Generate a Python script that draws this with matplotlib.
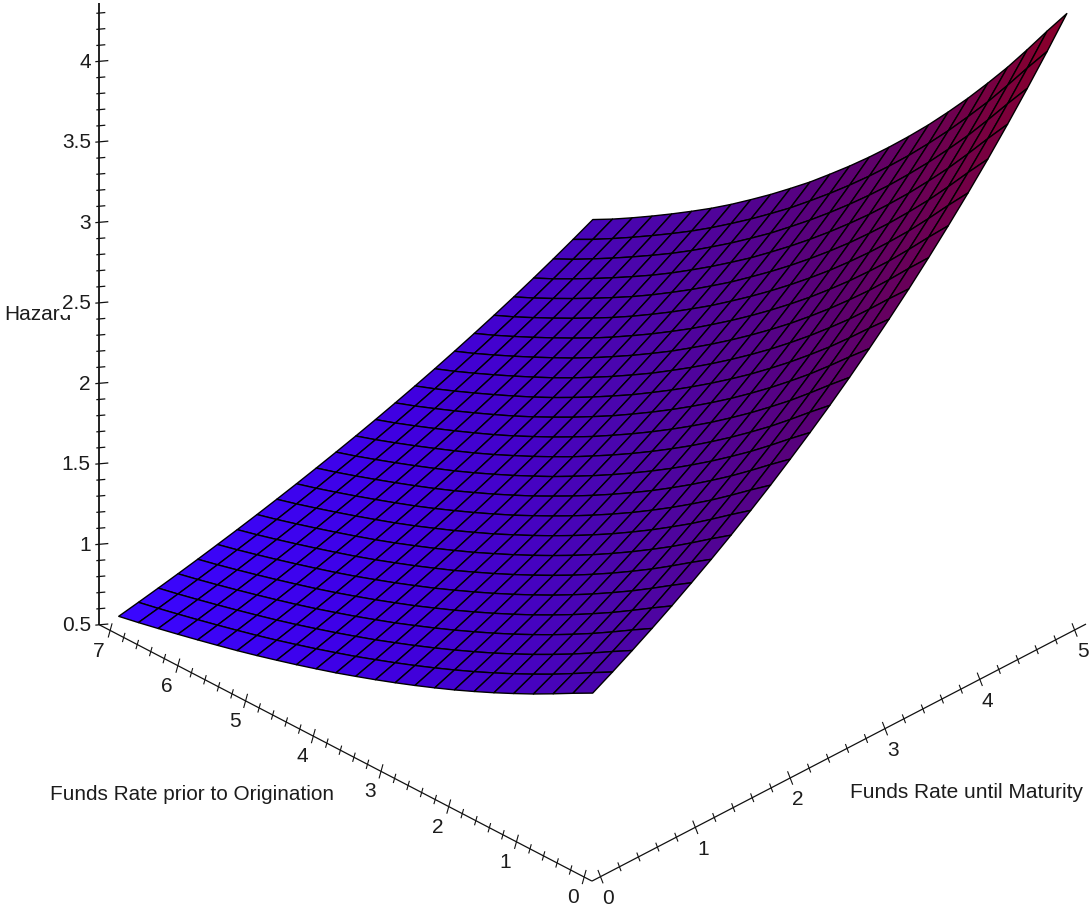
import numpy as np
import matplotlib
matplotlib.use("Agg")
import matplotlib.pyplot as plt
from matplotlib.colors import LinearSegmentedColormap, Normalize
from mpl_toolkits.mplot3d import proj3d

plt.rcParams['font.family'] = ['Liberation Sans', 'DejaVu Sans']

# Funds Rate until Maturity grid and hazard along the edge where prior rate = 0
maturity_rate = [5 * i / 24 for i in range(25)]
hazard_by_maturity = [1.615, 1.682, 1.752, 1.825, 1.901, 1.981, 2.063, 2.149, 2.239, 2.332,
                      2.430, 2.531, 2.636, 2.746, 2.861, 2.980, 3.104, 3.234, 3.369, 3.509,
                      3.655, 3.808, 3.967, 4.132, 4.304]
# Funds Rate prior to Origination grid and hazard along the edge where maturity rate = 0
origination_rate = [7 * i / 24 for i in range(25)]
hazard_by_origination = [1.615, 1.550, 1.483, 1.418, 1.357, 1.298, 1.242, 1.188, 1.137, 1.088,
                         1.041, 0.996, 0.953, 0.911, 0.872, 0.834, 0.798, 0.763, 0.730, 0.699,
                         0.669, 0.640, 0.612, 0.585, 0.560]

x_ticks = [0, 1, 2, 3, 4, 5]
y_ticks = [0, 1, 2, 3, 4, 5, 6, 7]
z_ticks = [0.5, 1, 1.5, 2, 2.5, 3, 3.5, 4]
z_tick_labels = ['0.5', '1', '1.5', '2', '2.5', '3', '3.5', '4']
x_label = 'Funds Rate until Maturity'
y_label = 'Funds Rate prior to Origination'
z_label = 'Hazard'

color_levels = [0.56, 1.0, 1.6, 2.6, 3.5, 4.3]
color_values = ['#3a06ff', '#3f00e1', '#4a05af', '#5a0073', '#730046', '#8c0028']

X_LO, X_HI = -0.09, 5.12
Y_LO, Y_HI = -0.115, 7.16
Z_LO, Z_HI = 0.5, 4.36
W, H = 1090, 914
TXT = '#1c1c1c'

fig = plt.figure(figsize=(W / 100, H / 100), dpi=100, facecolor='white')
ax = fig.add_axes([(W - H) / 2 / W, 0, H / W, 1], projection='3d', proj_type='ortho')
ax.set_xticks([])
ax.set_yticks([])
ax.set_zticks([])
ax.set_axis_off()
ax.patch.set_alpha(0)
ax.view_init(elev=31.35, azim=-135)
ax.set_xlim(X_LO, X_HI)
ax.set_ylim(Y_LO, Y_HI)
ax.set_zlim(Z_LO, Z_HI)
ax.set_box_aspect((700, 698, 729))

mx = np.array(maturity_rate)
oy = np.array(origination_rate)
hm = np.array(hazard_by_maturity)
ho = np.array(hazard_by_origination)
Xg, Yg = np.meshgrid(mx, oy)
Zg = np.outer(ho, hm) / hm[0]

cmap = LinearSegmentedColormap.from_list(
    'haz', [((v - color_levels[0]) / (color_levels[-1] - color_levels[0]), c)
            for v, c in zip(color_levels, color_values)])
norm = Normalize(color_levels[0], color_levels[-1])
fc = cmap(norm(Zg))
ax.plot_surface(Xg, Yg, Zg, rstride=1, cstride=1, facecolors=fc, edgecolor='black',
                linewidth=1.0, shade=False, antialiased=True)


def px_to_t(px):
    # horizontal screen shift expressed along the (+x, -y) world direction
    return px / 162.7


axis_kw = dict(color='#111111', solid_capstyle='butt', zorder=2)
ax.plot([X_LO, X_HI], [Y_LO, Y_LO], [Z_LO, Z_LO], lw=0.9, **axis_kw)
ax.plot([X_LO, X_LO], [Y_LO, Y_HI], [Z_LO, Z_LO], lw=0.9, **axis_kw)
ax.plot([X_LO, X_LO], [Y_HI, Y_HI], [Z_LO, Z_HI], lw=1.3, **axis_kw)

# x axis ticks
for k in range(0, 26):
    v = k / 5
    major = k % 5 == 0
    hz, ht = (0.043, 0.016) if major else (0.028, 0.010)
    ax.plot([v - ht, v + ht], [Y_LO + ht, Y_LO - ht], [Z_LO + hz, Z_LO - hz], lw=0.8, **axis_kw)
for v in x_ticks:
    t = px_to_t(8)
    ax.text(v + t, Y_LO - t, Z_LO - 0.14, str(v), fontsize=15, color=TXT,
            ha='center', va='center', zorder=6)

# y axis ticks
for k in range(0, 36):
    v = k / 5
    major = k % 5 == 0
    hz, ht = (0.043, 0.012) if major else (0.028, 0.008)
    ax.plot([X_LO + ht, X_LO - ht], [v - ht, v + ht], [Z_LO + hz, Z_LO - hz], lw=0.8, **axis_kw)
for v in y_ticks:
    t = px_to_t(-11)
    ax.text(X_LO + t, v - t, Z_LO - 0.122, str(v), fontsize=15, color=TXT,
            ha='center', va='center', zorder=6)

# z axis ticks
for k in range(5, 44):
    v = k / 10
    major = k % 5 == 0
    left, right = (4, 9) if major else (3, 6)
    t0, t1 = px_to_t(-left), px_to_t(right)
    ax.plot([X_LO + t0, X_LO + t1], [Y_HI - t0, Y_HI - t1], [v, v], lw=0.9, **axis_kw)
for v, s in zip(z_ticks, z_tick_labels):
    t = px_to_t(-8.5)
    ax.text(X_LO + t, Y_HI - t, v, s, fontsize=15, color=TXT, ha='right', va='center',
            zorder=7, bbox=dict(facecolor='white', edgecolor='none', pad=1.5))


def to_px(x, y, z):
    a, b, _ = proj3d.proj_transform(x, y, z, ax.get_proj())
    return ax.transData.transform((a, b))


# Place the box so that the floor axes land where the reference has them
ax.apply_aspect()
p0 = to_px(0, 0, 0.5)
p1 = to_px(5, 0, 0.5)
t0 = np.array([592.7, H - 872.6])
t1 = np.array([1067.7, H - 627.6])
s = np.linalg.norm(t1 - t0) / np.linalg.norm(p1 - p0)
box = ax.get_position()
cx, cy = (box.x0 + box.width / 2) * W, (box.y0 + box.height / 2) * H
size = box.width * W * s
cn = t0 - s * (p0 - np.array([cx, cy]))
ax.set_position([(cn[0] - size / 2) / W, (cn[1] - size / 2) / H, size / W, size / H])

to_fig = lambda a, b: (a / W, 1 - b / H)
ax.text2D(*to_fig(4, 315), z_label, transform=fig.transFigure, fontsize=15, color=TXT,
          ha='left', va='center', zorder=5)
fig.text(*to_fig(50, 794), y_label, fontsize=14.95, color=TXT, ha='left', va='center')
fig.text(*to_fig(850, 792), x_label, fontsize=15, color=TXT, ha='left', va='center')

fig.savefig('out.png', dpi=100, facecolor='white')
